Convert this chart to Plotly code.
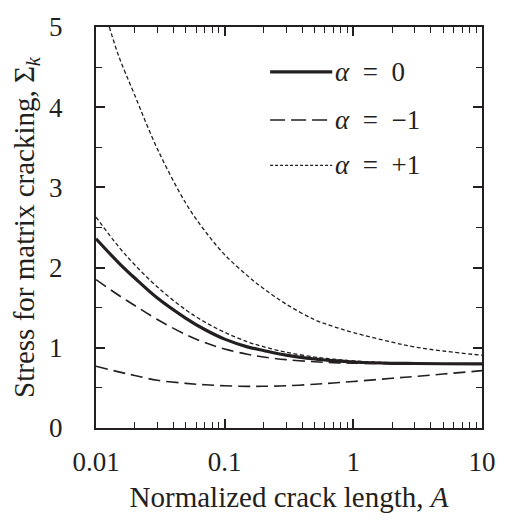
import plotly.graph_objects as go

# ---- data ----
A_grid = [0.01, 0.015, 0.02, 0.03, 0.05, 0.07, 0.1, 0.15, 0.2, 0.3, 0.5, 0.7, 1, 2, 3, 5, 10]

sigma_a0 = [2.36, 2.06, 1.87, 1.62, 1.368, 1.228, 1.108, 1.012, 0.967, 0.909, 0.860, 0.839, 0.823, 0.807, 0.804, 0.801, 0.80]

sigma_am1_upper = [1.85, 1.655, 1.527, 1.353, 1.164, 1.066, 0.985, 0.919, 0.886, 0.852, 0.826, 0.815, 0.808, 0.803, 0.80, 0.80, 0.80]
sigma_am1_lower = [0.77, 0.70, 0.655, 0.595, 0.557, 0.539, 0.526, 0.519, 0.520, 0.526, 0.545, 0.562, 0.58, 0.62, 0.643, 0.673, 0.715]

sigma_ap1_lower = [2.63, 2.26, 2.035, 1.758, 1.472, 1.322, 1.193, 1.076, 1.014, 0.945, 0.885, 0.858, 0.837, 0.813, 0.807, 0.803, 0.80]

A_ap1_upper = [0.0127, 0.015, 0.02, 0.03, 0.05, 0.07, 0.1, 0.15, 0.2, 0.3, 0.5, 0.7, 1, 2, 3, 5, 10]
sigma_ap1_upper = [5.0, 4.64, 4.15, 3.48, 2.80, 2.46, 2.16, 1.90, 1.74, 1.545, 1.35, 1.265, 1.19, 1.07, 1.01, 0.96, 0.907]

x_tick_text = ["0.01", "0.1", "1", "10"]
SP = "\u2002"
legend_labels = [f"<i>α</i>{SP}={SP}0", f"<i>α</i>{SP}={SP}−1", f"<i>α</i>{SP}={SP}+1"]

INK = "#231f20"
FONT = "Liberation Serif"
DASH_LONG = "12px,6px"
DASH_SHORT = "4px,2.5px"

fig = go.Figure()

def add(x, y, width, dash):
    fig.add_trace(go.Scatter(x=x, y=y, mode="lines", showlegend=False,
                             line=dict(color=INK, width=width, dash=dash, shape="spline", smoothing=1.0),
                             hoverinfo="skip"))

add(A_grid, sigma_am1_upper, 1.6, DASH_LONG)
add(A_grid, sigma_am1_lower, 1.6, DASH_LONG)
add(A_grid, sigma_ap1_lower, 1.3, DASH_SHORT)
add(A_ap1_upper, sigma_ap1_upper, 1.3, DASH_SHORT)
add(A_grid, sigma_a0, 3.2, "solid")

# ---- custom legend (longer sample lines like the reference) ----
leg_y = [0.888, 0.768, 0.655]
leg_styles = [(3.2, "solid"), (1.6, "15px,6px"), (1.2, "3px,2px")]
for yy, (w, d), lab in zip(leg_y, leg_styles, legend_labels):
    fig.add_shape(type="line", xref="paper", yref="paper", x0=0.451, x1=0.612, y0=yy, y1=yy,
                  line=dict(color=INK, width=w, dash=d))
    fig.add_annotation(xref="paper", yref="paper", x=0.614, y=yy, text=lab, showarrow=False,
                       xanchor="left", yanchor="middle", font=dict(family=FONT, size=27, color=INK))

axis_common = dict(showline=True, linewidth=2, linecolor=INK, mirror="ticks",
                   ticks="inside", tickwidth=1.5, tickcolor=INK, ticklen=9,
                   showgrid=False, zeroline=False,
                   tickfont=dict(family=FONT, size=27, color=INK))

fig.update_xaxes(type="log", range=[-2, 1], tickmode="array",
                 tickvals=[0.01, 0.1, 1, 10], ticktext=x_tick_text,
                 minor=dict(ticks="inside", ticklen=6, tickwidth=1.2, tickcolor=INK,
                            tickvals=[m * d for d in [0.01, 0.1, 1] for m in range(2, 10)]),
                 ticklabelstandoff=9,
                 title=dict(text="Normalized crack length, <i>A</i>",
                            font=dict(family=FONT, size=29, color=INK), standoff=10),
                 **axis_common)
fig.update_yaxes(range=[0, 5], dtick=1, tick0=0,
                 minor=dict(ticks="inside", ticklen=6, tickwidth=1.2, tickcolor=INK, dtick=0.5),
                 ticklabelstandoff=26,
                 title=dict(text="Stress for matrix cracking, Σ<sub><i>k</i></sub>",
                            font=dict(family=FONT, size=29, color=INK), standoff=6),
                 **axis_common)

fig.update_layout(width=508, height=520, margin=dict(l=96, r=22, t=19, b=82),
                  paper_bgcolor="white", plot_bgcolor="white", showlegend=False)

fig.write_html("out.html")
